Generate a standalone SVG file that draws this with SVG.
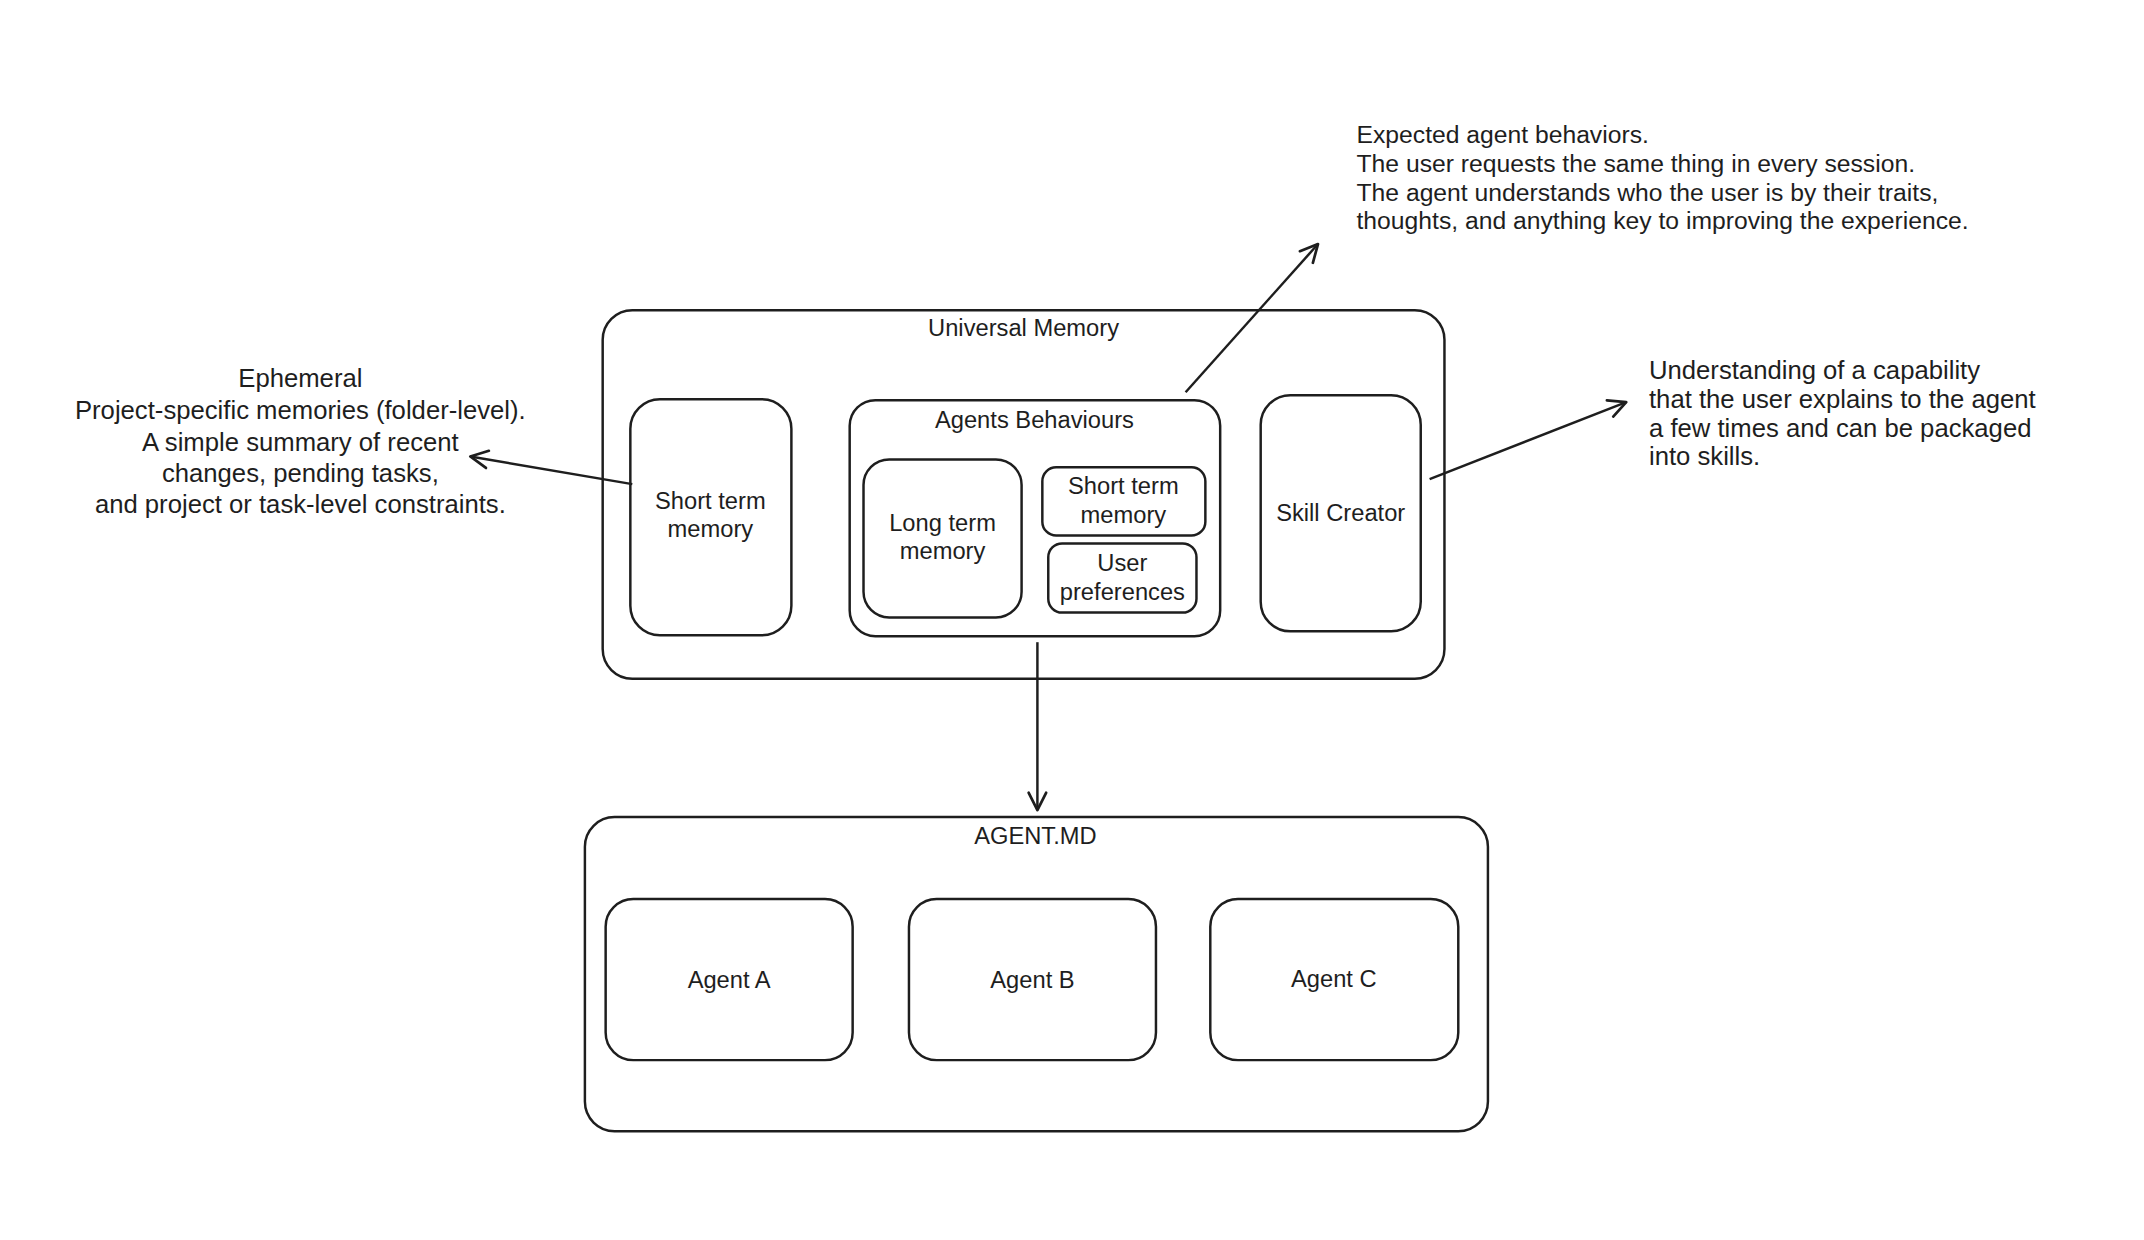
<svg xmlns="http://www.w3.org/2000/svg" width="2144" height="1240" viewBox="0 0 2144 1240">
<defs>
<marker id="ah" viewBox="0 0 20 20" refX="18" refY="10" markerWidth="22" markerHeight="22" markerUnits="userSpaceOnUse" orient="auto">
<path d="M2 2 L18 10 L2 18" fill="none" stroke="#1e1e1e" stroke-width="2.5" stroke-linecap="round" stroke-linejoin="round"/>
</marker>
<style>
rect{fill:none;stroke:#1e1e1e;stroke-width:2.5}
text{font-family:"Liberation Sans",Arial,sans-serif;font-size:24px;fill:#1e1e1e}
.c{text-anchor:middle}
.n{font-size:26px}
.t{font-size:25px}
.l{stroke:#1e1e1e;stroke-width:2.5;fill:none;marker-end:url(#ah)}
</style>
</defs>
<rect x="0" y="0" width="2144" height="1240" style="fill:#fff;stroke:none"/>
<g transform="scale(0.988)">
<g id="universal"><rect x="610" y="314" width="852" height="373" rx="30"/><text class="c" x="1036" y="340">Universal Memory</text></g>
<g id="stm"><rect x="638" y="404" width="163" height="239" rx="30"/><text class="c" x="719" y="515">Short term</text><text class="c" x="719" y="544">memory</text></g>
<g id="behaviours"><rect x="860" y="405" width="375" height="239" rx="26"/><text class="c" x="1047" y="433">Agents Behaviours</text></g>
<g id="ltm"><rect x="874" y="465" width="160" height="160" rx="26"/><text class="c" x="954" y="537">Long term</text><text class="c" x="954" y="566">memory</text></g>
<g id="stm2"><rect x="1055" y="473" width="165" height="69" rx="14"/><text class="c" x="1137" y="500">Short term</text><text class="c" x="1137" y="529">memory</text></g>
<g id="prefs"><rect x="1061" y="550" width="150" height="70" rx="14"/><text class="c" x="1136" y="578">User</text><text class="c" x="1136" y="607">preferences</text></g>
<g id="skill"><rect x="1276" y="400" width="162" height="239" rx="30"/><text class="c" x="1357" y="527">Skill Creator</text></g>
<g id="agentmd"><rect x="592" y="827" width="914" height="318" rx="30"/><text class="c" x="1048" y="854">AGENT.MD</text></g>
<g id="agentA"><rect x="613" y="910" width="250" height="163" rx="28"/><text class="c" x="738" y="1000">Agent A</text></g>
<g id="agentB"><rect x="920" y="910" width="250" height="163" rx="28"/><text class="c" x="1045" y="1000">Agent B</text></g>
<g id="agentC"><rect x="1225" y="910" width="251" height="163" rx="28"/><text class="c" x="1350" y="999">Agent C</text></g>
<g id="connectors">
<line class="l" x1="1050" y1="650" x2="1050" y2="820"/>
<line class="l" x1="640" y1="490" x2="476" y2="462"/>
<line class="l" x1="1200" y1="397" x2="1334" y2="247"/>
<line class="l" x1="1447" y1="485" x2="1646" y2="407"/>
</g>
<g id="notes">
<text class="c n" x="304"><tspan x="304" y="392">Ephemeral</tspan><tspan x="304" y="424">Project-specific memories (folder-level).</tspan><tspan x="304" y="456">A simple summary of recent</tspan><tspan x="304" y="488">changes, pending tasks,</tspan><tspan x="304" y="519">and project or task-level constraints.</tspan></text>
<text class="t" x="1373"><tspan x="1373" y="145">Expected agent behaviors.</tspan><tspan x="1373" y="174">The user requests the same thing in every session.</tspan><tspan x="1373" y="203">The agent understands who the user is by their traits,</tspan><tspan x="1373" y="232">thoughts, and anything key to improving the experience.</tspan></text>
<text class="n" x="1669"><tspan x="1669" y="384">Understanding of a capability</tspan><tspan x="1669" y="413">that the user explains to the agent</tspan><tspan x="1669" y="442">a few times and can be packaged</tspan><tspan x="1669" y="471">into skills.</tspan></text>
</g>
</g>
</svg>
